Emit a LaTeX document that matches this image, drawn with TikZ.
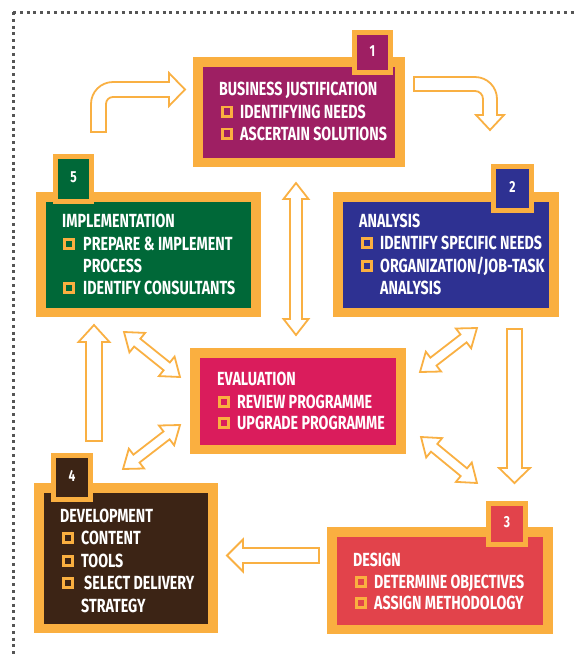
\documentclass[tikz,border=0pt]{standalone}
\usepackage{fontspec}
\setmainfont{Fira Sans}[FakeStretch=0.75]
\definecolor{orng}{HTML}{FAAF40}
\definecolor{arrc}{HTML}{F9B043}
\definecolor{cpurple}{HTML}{9E1F63}
\definecolor{cblue}{HTML}{2E3192}
\definecolor{cgreen}{HTML}{006838}
\definecolor{cpink}{HTML}{DA1C5C}
\definecolor{cbrown}{HTML}{3C2415}
\definecolor{cred}{HTML}{E2434B}
\definecolor{dotc}{HTML}{555555}
\tikzset{
  lbl/.style={anchor=base west, inner sep=0pt, text=white, font=\bfseries\fontsize{19}{21}\selectfont},
  numlbl/.style={inner sep=0pt, text=white, font=\bfseries\fontsize{16}{18}\selectfont},
  harrow/.style={draw=arrc, line width=1.8pt, fill=white, line join=miter},
  dotline/.style={draw=dotc, line width=3pt, dash pattern=on 3pt off 3.8pt}
}
\newcommand\panel[5]{\fill[orng] (#1,#2) rectangle (#3,#4); \fill[#5] (#1+10,#2+10) rectangle (#3-10,#4-9);}
\newcommand\tabbox[7]{\fill[orng] (#1,#2) rectangle (#3,#4); \fill[#5] (#1+5,#2+5) rectangle (#3-5,#4-5);
  \node[numlbl] (#7) at ({(#1+#3)/2},{(#2+#4)/2-1.5}) {#6};}
\newcommand\chk[3]{\draw[orng, line width=2.6pt, fill=#3] (#1+1.3,#2-11.2) rectangle (#1+10.7,#2-1.8);}
% double-headed hollow arrow
\newcommand\dblarrow[7]{%
  \pgfmathsetmacro\aang{atan2(#2-#4,#3-#1)}%
  \pgfmathsetmacro\alen{veclen(#3-#1,#4-#2)}%
  \begin{scope}[shift={(#1,#2)},rotate=\aang]
  \draw[harrow] (0,0) -- (#5,#6) -- (#5,#7) -- (\alen-#5,#7) -- (\alen-#5,#6) -- (\alen,0)
     -- (\alen-#5,-#6) -- (\alen-#5,-#7) -- (#5,-#7) -- (#5,-#6) -- cycle;
  \end{scope}}
% single-headed hollow arrow
\newcommand\sglarrow[7]{%
  \pgfmathsetmacro\aang{atan2(#2-#4,#3-#1)}%
  \pgfmathsetmacro\alen{veclen(#3-#1,#4-#2)}%
  \begin{scope}[shift={(#1,#2)},rotate=\aang]
  \draw[harrow] (0,#7) -- (\alen-#5,#7) -- (\alen-#5,#6) -- (\alen,0)
     -- (\alen-#5,-#6) -- (\alen-#5,-#7) -- (0,-#7) -- cycle;
  \end{scope}}
\begin{document}
\begin{tikzpicture}[x=1pt,y=-1pt]
\useasboundingbox (0,0) rectangle (576,657);
% dotted frame
\draw[dotline] (13,12) -- (580,12);
\draw[dotline] (13,12) -- (13,660);

% ---------- panels ----------
\panel{193}{57}{405}{167}{cpurple}
\tabbox{352}{30}{393}{75}{cpurple}{1}{n1}
\node[lbl] (t1) at (219,95) {BUSINESS JUSTIFICATION};
\chk{221}{118}{cpurple}\node[lbl] (t1a) at (240,118) {IDENTIFYING NEEDS};
\chk{221}{140}{cpurple}\node[lbl] (t1b) at (240,140) {ASCERTAIN SOLUTIONS};

\panel{333}{192}{559}{317}{cblue}
\tabbox{491}{164}{534}{213}{cblue}{2}{n2}
\node[lbl] (t2) at (359,227.5) {ANALYSIS};
\chk{361}{249.5}{cblue}\node[lbl] (t2a) at (380,249.5) {IDENTIFY SPECIFIC NEEDS};
\chk{361}{272.5}{cblue}\node[lbl] (t2b) at (380,272.5) {ORGANIZATION/JOB-TASK};
\node[lbl] (t2c) at (380,294.5) {ANALYSIS};

\panel{36}{192}{261}{317}{cgreen}
\tabbox{53}{154}{94}{204}{cgreen}{5}{n5}
\node[lbl] (t5) at (62,227.5) {IMPLEMENTATION};
\chk{63}{250.5}{cgreen}\node[lbl] (t5a) at (83,250.5) {PREPARE \& IMPLEMENT};
\node[lbl] (t5b) at (83,272.5) {PROCESS};
\chk{63}{294.5}{cgreen}\node[lbl] (t5c) at (83,294.5) {IDENTIFY CONSULTANTS};

\panel{190}{348}{406}{454}{cpink}
\node[lbl] (te) at (217,385.5) {EVALUATION};
\chk{218}{408.5}{cpink}\node[lbl] (tea) at (237,408.5) {REVIEW PROGRAMME};
\chk{218}{429.5}{cpink}\node[lbl] (teb) at (237,429.5) {UPGRADE PROGRAMME};

\panel{34}{483}{218}{633}{cbrown}
\tabbox{51}{453}{93}{502}{cbrown}{4}{n4}
\node[lbl] (t4) at (60,522.5) {DEVELOPMENT};
\chk{62}{544.5}{cbrown}\node[lbl] (t4a) at (81,544.5) {CONTENT};
\chk{62}{567.5}{cbrown}\node[lbl] (t4b) at (81,567.5) {TOOLS};
\chk{62}{589.5}{cbrown}\node[lbl] (t4c) at (84,589.5) {SELECT DELIVERY};
\node[lbl] (t4d) at (81,612.5) {STRATEGY};

\panel{327}{527}{553}{634}{cred}
\tabbox{486}{501}{528}{547}{cred}{3}{n3}
\node[lbl] (t3) at (353,566.5) {DESIGN};
\chk{355}{588.5}{cred}\node[lbl] (t3a) at (374,588.5) {DETERMINE OBJECTIVES};
\chk{355}{609.5}{cred}\node[lbl] (t3b) at (374,609.5) {ASSIGN METHODOLOGY};

% ---------- arrows ----------
% bent arrow 5 -> 1
\draw[harrow] (91,132) -- (91,104) .. controls (91,91.85) and (100.85,82) .. (113,82)
  -- (169,82) -- (169,73) -- (185,89.5) -- (169,106) -- (169,97) -- (113,97)
  .. controls (109.13,97) and (106,100.13) .. (106,104) -- (106,132) -- cycle;
% bent arrow 1 -> 2
\draw[harrow] (414,77) -- (475,77) .. controls (487.15,77) and (497,86.85) .. (497,99)
  -- (497,115) -- (504,115) -- (490,130) -- (476,115) -- (483,115) -- (483,99)
  .. controls (483,94.58) and (479.42,91) .. (475,91) -- (414,91) -- cycle;
% straight arrows
\dblarrow{296}{183}{296}{335}{16}{12.5}{6}
\sglarrow{514.5}{329}{514.5}{483}{15}{15.5}{7.5}
\sglarrow{319}{555.5}{227}{555.5}{16}{16}{7.5}
\sglarrow{94}{441}{94}{325}{17}{15.5}{8}
\dblarrow{420}{372}{477}{328}{17}{12.5}{5}
\dblarrow{421}{437}{477}{483}{17}{12.5}{5}
\dblarrow{124}{332}{180}{377}{17}{12.5}{5}
\dblarrow{180}{425}{123}{469}{17}{12.5}{5}
\end{tikzpicture}
\end{document}
